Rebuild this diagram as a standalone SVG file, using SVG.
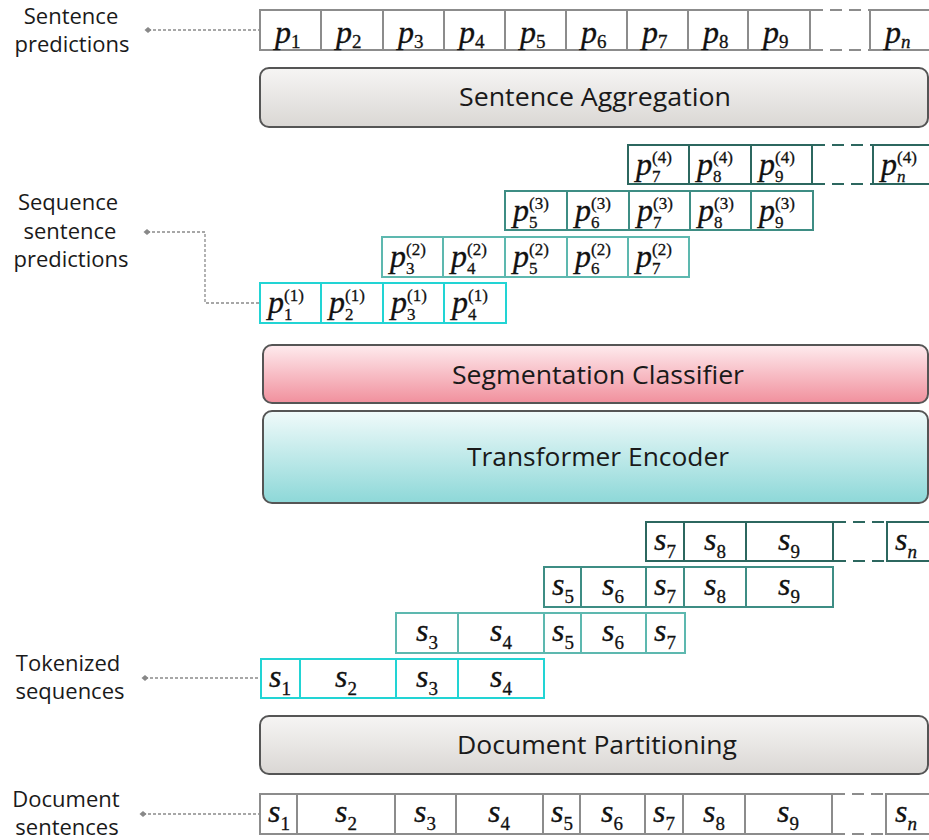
<svg xmlns="http://www.w3.org/2000/svg" width="929" height="840" viewBox="0 0 929 840">
  <defs>
    <linearGradient id="gGray" x1="0" y1="0" x2="0" y2="1">
      <stop offset="0" stop-color="#f6f5f4"/>
      <stop offset="1" stop-color="#dad7d4"/>
    </linearGradient>
    <linearGradient id="gPink" x1="0" y1="0" x2="0" y2="1">
      <stop offset="0" stop-color="#feebee"/>
      <stop offset="1" stop-color="#f1909d"/>
    </linearGradient>
    <linearGradient id="gTeal" x1="0" y1="0" x2="0" y2="1">
      <stop offset="0" stop-color="#f0fafa"/>
      <stop offset="1" stop-color="#8dd8d8"/>
    </linearGradient>
    <marker id="dot" viewBox="-4 -4 8 8" markerWidth="8" markerHeight="8" markerUnits="userSpaceOnUse" refX="0" refY="0" orient="auto">
      <path d="M-3.5,0 L0,-3 L3.5,0 L0,3 Z" fill="#888"/>
    </marker>
  </defs>
  <style>
    .lbl { font-family: "Open Sans", "Noto Sans", sans-serif; font-size: 22px; fill: #1a1a1a; text-anchor: middle; }
    .ttl { font-family: "Open Sans", "Noto Sans", sans-serif; font-size: 26px; fill: #1a1a1a; text-anchor: middle; }
    .box { stroke: #555; stroke-width: 2; }
    .cell { fill: #fff; stroke-width: 2; }
    .g0 { stroke: #8c8c8c; }
    .c1 { stroke: #22d4d4; }
    .c2 { stroke: #5db8af; }
    .c3 { stroke: #3e8d84; }
    .c4 { stroke: #2c675f; }
    .gap { fill: none; stroke-width: 2; stroke-dasharray: 12 7; }
    .m { font-family: "Liberation Serif", "DejaVu Serif", serif; font-size: 32px; font-style: italic; fill: #111; stroke: #111; stroke-width: 0.3; }
    .mc { text-anchor: middle; }
    .sb { font-style: normal; font-size: 19px; }
    .sbi { font-size: 19px; }
    .ss { font-style: normal; font-size: 17px; }
    .ssi { font-size: 17px; }
    .conn { fill: none; stroke: #8a8a8a; stroke-width: 1.3; stroke-dasharray: 3 2; marker-start: url(#dot); }
  </style>

  <!-- side labels -->
  <g id="lbl-sentence-predictions">
    <text class="lbl" x="71" y="24">Sentence</text>
    <text class="lbl" x="72" y="52">predictions</text>
  </g>
  <g id="lbl-sequence-predictions">
    <text class="lbl" x="68" y="210">Sequence</text>
    <text class="lbl" x="70" y="239">sentence</text>
    <text class="lbl" x="71" y="267">predictions</text>
  </g>
  <g id="lbl-tokenized">
    <text class="lbl" x="68" y="671">Tokenized</text>
    <text class="lbl" x="70" y="699">sequences</text>
  </g>
  <g id="lbl-document">
    <text class="lbl" x="66" y="807">Document</text>
    <text class="lbl" x="67" y="835">sentences</text>
  </g>

  <!-- connectors -->
  <g id="connectors">
    <path class="conn" d="M148,30 H260"/>
    <path class="conn" d="M147,232 H205 V303 H260"/>
    <path class="conn" d="M145,678 H261"/>
    <path class="conn" d="M143,814 H260"/>
  </g>

  <!-- final sentence predictions -->
  <g id="sentence-predictions">
    <rect class="cell g0" x="260" y="10" width="61" height="40"/>
    <rect class="cell g0" x="321" y="10" width="62" height="40"/>
    <rect class="cell g0" x="383" y="10" width="61" height="40"/>
    <rect class="cell g0" x="444" y="10" width="61" height="40"/>
    <rect class="cell g0" x="505" y="10" width="61" height="40"/>
    <rect class="cell g0" x="566" y="10" width="61" height="40"/>
    <rect class="cell g0" x="627" y="10" width="61" height="40"/>
    <rect class="cell g0" x="688" y="10" width="60" height="40"/>
    <rect class="cell g0" x="748" y="10" width="62" height="40"/>
    <path class="gap g0" d="M811,10 H870 M811,50 H870"/>
    <rect class="cell g0" x="870" y="10" width="62" height="40"/>
    <text class="m" x="275" y="43">p<tspan class="sb" x="291" y="48">1</tspan></text>
    <text class="m" x="336" y="43">p<tspan class="sb" x="352" y="48">2</tspan></text>
    <text class="m" x="398" y="43">p<tspan class="sb" x="414" y="48">3</tspan></text>
    <text class="m" x="459" y="43">p<tspan class="sb" x="475" y="48">4</tspan></text>
    <text class="m" x="520" y="43">p<tspan class="sb" x="536" y="48">5</tspan></text>
    <text class="m" x="581" y="43">p<tspan class="sb" x="597" y="48">6</tspan></text>
    <text class="m" x="642" y="43">p<tspan class="sb" x="658" y="48">7</tspan></text>
    <text class="m" x="703" y="43">p<tspan class="sb" x="719" y="48">8</tspan></text>
    <text class="m" x="763" y="43">p<tspan class="sb" x="779" y="48">9</tspan></text>
    <text class="m" x="885" y="43">p<tspan class="sbi" x="901" y="48">n</tspan></text>
  </g>

  <g id="sentence-aggregation">
    <rect class="box" x="260" y="68" width="668" height="59" rx="9" fill="url(#gGray)"/>
    <text class="ttl" x="595" y="106" textLength="272" lengthAdjust="spacingAndGlyphs">Sentence Aggregation</text>
  </g>

  <!-- per-sequence sentence predictions: p, superscript (k), subscript index -->
  <g id="seq-pred-4">
    <rect class="cell c4" x="628" y="145" width="61" height="39"/>
    <rect class="cell c4" x="689" y="145" width="62" height="39"/>
    <rect class="cell c4" x="751" y="145" width="61" height="39"/>
    <path class="gap c4" d="M813,145 H873 M813,184 H873"/>
    <rect class="cell c4" x="873" y="145" width="60" height="39"/>
    <text class="m" x="636" y="175">p<tspan class="ss" x="652" y="163">(4)</tspan><tspan class="ss" x="652" y="182">7</tspan></text>
    <text class="m" x="697" y="175">p<tspan class="ss" x="713" y="163">(4)</tspan><tspan class="ss" x="713" y="182">8</tspan></text>
    <text class="m" x="759" y="175">p<tspan class="ss" x="775" y="163">(4)</tspan><tspan class="ss" x="775" y="182">9</tspan></text>
    <text class="m" x="881" y="175">p<tspan class="ss" x="897" y="163">(4)</tspan><tspan class="ssi" x="897" y="182">n</tspan></text>
  </g>
  <g id="seq-pred-3">
    <rect class="cell c3" x="505" y="191" width="62" height="39"/>
    <rect class="cell c3" x="567" y="191" width="62" height="39"/>
    <rect class="cell c3" x="629" y="191" width="61" height="39"/>
    <rect class="cell c3" x="690" y="191" width="61" height="39"/>
    <rect class="cell c3" x="751" y="191" width="62" height="39"/>
    <text class="m" x="513" y="221">p<tspan class="ss" x="529" y="209">(3)</tspan><tspan class="ss" x="529" y="228">5</tspan></text>
    <text class="m" x="575" y="221">p<tspan class="ss" x="591" y="209">(3)</tspan><tspan class="ss" x="591" y="228">6</tspan></text>
    <text class="m" x="637" y="221">p<tspan class="ss" x="653" y="209">(3)</tspan><tspan class="ss" x="653" y="228">7</tspan></text>
    <text class="m" x="698" y="221">p<tspan class="ss" x="714" y="209">(3)</tspan><tspan class="ss" x="714" y="228">8</tspan></text>
    <text class="m" x="759" y="221">p<tspan class="ss" x="775" y="209">(3)</tspan><tspan class="ss" x="775" y="228">9</tspan></text>
  </g>
  <g id="seq-pred-2">
    <rect class="cell c2" x="382" y="237" width="61" height="40"/>
    <rect class="cell c2" x="443" y="237" width="62" height="40"/>
    <rect class="cell c2" x="505" y="237" width="62" height="40"/>
    <rect class="cell c2" x="567" y="237" width="61" height="40"/>
    <rect class="cell c2" x="628" y="237" width="61" height="40"/>
    <text class="m" x="390" y="267">p<tspan class="ss" x="406" y="255">(2)</tspan><tspan class="ss" x="406" y="274">3</tspan></text>
    <text class="m" x="451" y="267">p<tspan class="ss" x="467" y="255">(2)</tspan><tspan class="ss" x="467" y="274">4</tspan></text>
    <text class="m" x="513" y="267">p<tspan class="ss" x="529" y="255">(2)</tspan><tspan class="ss" x="529" y="274">5</tspan></text>
    <text class="m" x="575" y="267">p<tspan class="ss" x="591" y="255">(2)</tspan><tspan class="ss" x="591" y="274">6</tspan></text>
    <text class="m" x="636" y="267">p<tspan class="ss" x="652" y="255">(2)</tspan><tspan class="ss" x="652" y="274">7</tspan></text>
  </g>
  <g id="seq-pred-1">
    <rect class="cell c1" x="260" y="283" width="61" height="40"/>
    <rect class="cell c1" x="321" y="283" width="62" height="40"/>
    <rect class="cell c1" x="383" y="283" width="61" height="40"/>
    <rect class="cell c1" x="444" y="283" width="62" height="40"/>
    <text class="m" x="268" y="313">p<tspan class="ss" x="284" y="301">(1)</tspan><tspan class="ss" x="284" y="320">1</tspan></text>
    <text class="m" x="329" y="313">p<tspan class="ss" x="345" y="301">(1)</tspan><tspan class="ss" x="345" y="320">2</tspan></text>
    <text class="m" x="391" y="313">p<tspan class="ss" x="407" y="301">(1)</tspan><tspan class="ss" x="407" y="320">3</tspan></text>
    <text class="m" x="452" y="313">p<tspan class="ss" x="468" y="301">(1)</tspan><tspan class="ss" x="468" y="320">4</tspan></text>
  </g>

  <g id="segmentation-classifier">
    <rect class="box" x="263" y="345" width="665" height="58" rx="9" fill="url(#gPink)"/>
    <text class="ttl" x="598" y="384" textLength="292" lengthAdjust="spacingAndGlyphs">Segmentation Classifier</text>
  </g>
  <g id="transformer-encoder">
    <rect class="box" x="263" y="411" width="665" height="92" rx="9" fill="url(#gTeal)"/>
    <text class="ttl" x="598" y="466" textLength="262" lengthAdjust="spacingAndGlyphs">Transformer Encoder</text>
  </g>

  <!-- tokenized sequences -->
  <g id="tok-seq-4">
    <rect class="cell c4" x="646" y="522" width="38" height="39"/>
    <rect class="cell c4" x="684" y="522" width="62" height="39"/>
    <rect class="cell c4" x="746" y="522" width="87" height="39"/>
    <path class="gap c4" d="M834,522 H887 M834,561 H887"/>
    <rect class="cell c4" x="887" y="522" width="46" height="39"/>
    <text class="m mc" x="665" y="550">s<tspan class="sb" dy="8">7</tspan></text>
    <text class="m mc" x="715" y="550">s<tspan class="sb" dy="8">8</tspan></text>
    <text class="m mc" x="789" y="550">s<tspan class="sb" dy="8">9</tspan></text>
    <text class="m mc" x="906" y="550">s<tspan class="sbi" dy="8">n</tspan></text>
  </g>
  <g id="tok-seq-3">
    <rect class="cell c3" x="544" y="567" width="37" height="40"/>
    <rect class="cell c3" x="581" y="567" width="65" height="40"/>
    <rect class="cell c3" x="646" y="567" width="38" height="40"/>
    <rect class="cell c3" x="684" y="567" width="62" height="40"/>
    <rect class="cell c3" x="746" y="567" width="87" height="40"/>
    <text class="m mc" x="563" y="595">s<tspan class="sb" dy="8">5</tspan></text>
    <text class="m mc" x="613" y="595">s<tspan class="sb" dy="8">6</tspan></text>
    <text class="m mc" x="665" y="595">s<tspan class="sb" dy="8">7</tspan></text>
    <text class="m mc" x="715" y="595">s<tspan class="sb" dy="8">8</tspan></text>
    <text class="m mc" x="789" y="595">s<tspan class="sb" dy="8">9</tspan></text>
  </g>
  <g id="tok-seq-2">
    <rect class="cell c2" x="396" y="613" width="62" height="40"/>
    <rect class="cell c2" x="458" y="613" width="86" height="40"/>
    <rect class="cell c2" x="544" y="613" width="37" height="40"/>
    <rect class="cell c2" x="581" y="613" width="65" height="40"/>
    <rect class="cell c2" x="646" y="613" width="39" height="40"/>
    <text class="m mc" x="427" y="641">s<tspan class="sb" dy="8">3</tspan></text>
    <text class="m mc" x="501" y="641">s<tspan class="sb" dy="8">4</tspan></text>
    <text class="m mc" x="563" y="641">s<tspan class="sb" dy="8">5</tspan></text>
    <text class="m mc" x="613" y="641">s<tspan class="sb" dy="8">6</tspan></text>
    <text class="m mc" x="665" y="641">s<tspan class="sb" dy="8">7</tspan></text>
  </g>
  <g id="tok-seq-1">
    <rect class="cell c1" x="261" y="659" width="39" height="39"/>
    <rect class="cell c1" x="300" y="659" width="96" height="39"/>
    <rect class="cell c1" x="396" y="659" width="62" height="39"/>
    <rect class="cell c1" x="458" y="659" width="86" height="39"/>
    <text class="m mc" x="280" y="687">s<tspan class="sb" dy="8">1</tspan></text>
    <text class="m mc" x="346" y="687">s<tspan class="sb" dy="8">2</tspan></text>
    <text class="m mc" x="427" y="687">s<tspan class="sb" dy="8">3</tspan></text>
    <text class="m mc" x="501" y="687">s<tspan class="sb" dy="8">4</tspan></text>
  </g>

  <g id="document-partitioning">
    <rect class="box" x="260" y="716" width="668" height="58" rx="9" fill="url(#gGray)"/>
    <text class="ttl" x="597" y="754" textLength="280" lengthAdjust="spacingAndGlyphs">Document Partitioning</text>
  </g>

  <!-- document sentences -->
  <g id="document-sentences">
    <rect class="cell g0" x="260" y="794" width="37" height="40"/>
    <rect class="cell g0" x="297" y="794" width="98" height="40"/>
    <rect class="cell g0" x="395" y="794" width="61" height="40"/>
    <rect class="cell g0" x="456" y="794" width="87" height="40"/>
    <rect class="cell g0" x="543" y="794" width="37" height="40"/>
    <rect class="cell g0" x="580" y="794" width="65" height="40"/>
    <rect class="cell g0" x="645" y="794" width="38" height="40"/>
    <rect class="cell g0" x="683" y="794" width="62" height="40"/>
    <rect class="cell g0" x="745" y="794" width="87" height="40"/>
    <path class="gap g0" d="M833,794 H886 M833,834 H886"/>
    <rect class="cell g0" x="886" y="794" width="47" height="40"/>
    <text class="m mc" x="279" y="822">s<tspan class="sb" dy="8">1</tspan></text>
    <text class="m mc" x="346" y="822">s<tspan class="sb" dy="8">2</tspan></text>
    <text class="m mc" x="425" y="822">s<tspan class="sb" dy="8">3</tspan></text>
    <text class="m mc" x="499" y="822">s<tspan class="sb" dy="8">4</tspan></text>
    <text class="m mc" x="562" y="822">s<tspan class="sb" dy="8">5</tspan></text>
    <text class="m mc" x="612" y="822">s<tspan class="sb" dy="8">6</tspan></text>
    <text class="m mc" x="664" y="822">s<tspan class="sb" dy="8">7</tspan></text>
    <text class="m mc" x="714" y="822">s<tspan class="sb" dy="8">8</tspan></text>
    <text class="m mc" x="788" y="822">s<tspan class="sb" dy="8">9</tspan></text>
    <text class="m mc" x="906" y="822">s<tspan class="sbi" dy="8">n</tspan></text>
  </g>
</svg>
